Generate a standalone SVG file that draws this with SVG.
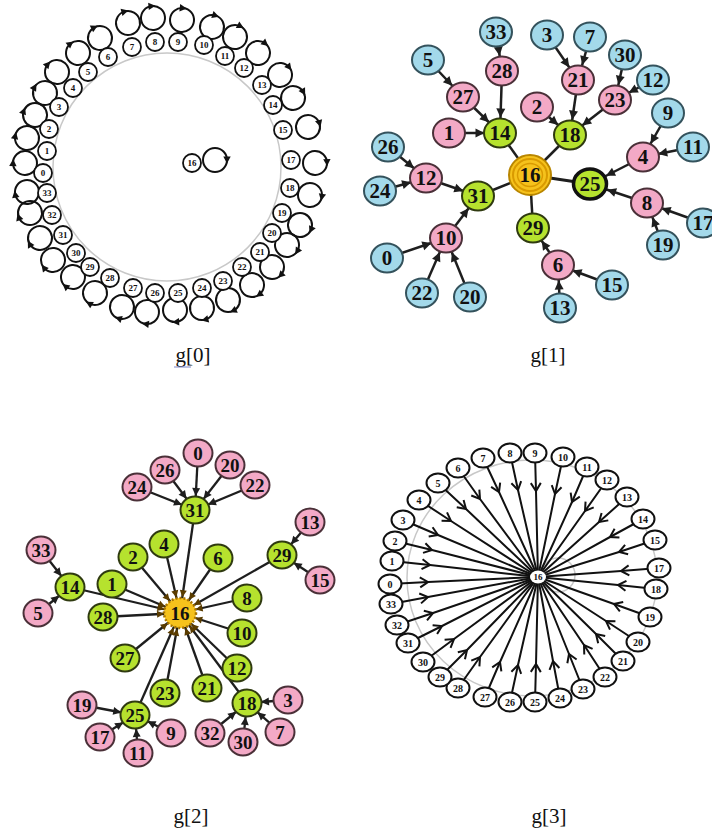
<svg xmlns="http://www.w3.org/2000/svg" xmlns:xlink="http://www.w3.org/1999/xlink" width="712" height="838" viewBox="0 0 712 838">
<style>
.bg{fill:#fff}
.ring{fill:none;stroke:#c8c8c8;stroke-width:1.5}
.lp circle{fill:none;stroke:#111;stroke-width:2}
.n0 circle{fill:#fff;stroke:#111;stroke-width:1.8}
.n0 text{font-family:"Liberation Serif",serif;font-weight:bold;font-size:9px;text-anchor:middle;dominant-baseline:central;fill:#111}
.e1{stroke:#1e1e1e;stroke-width:2.5;fill:none}
.e2{stroke:#1e1e1e;stroke-width:2.3;fill:none}
.big text{font-family:"Liberation Serif",serif;font-weight:bold;text-anchor:middle;dominant-baseline:central;fill:#111}
.g1 text{font-size:21px}
.g2 text{font-size:19px}
.b ellipse{fill:#a3d9ea;stroke:#34525c;stroke-width:2}
.p ellipse{fill:#f3a9c6;stroke:#4a3038;stroke-width:2}
.g ellipse{fill:#b6e22e;stroke:#2f3a10;stroke-width:2}
.e3{stroke:#111;stroke-width:2;fill:none}
.n3 ellipse{fill:#fff;stroke:#111;stroke-width:2}
.n3 text{font-family:"Liberation Serif",serif;font-weight:bold;font-size:10px;text-anchor:middle;dominant-baseline:central;fill:#111}
.cap{font-family:"Liberation Serif",serif;font-size:21px;text-anchor:middle;fill:#111}
</style>
<defs>
<g id="lp" class="lp"><circle r="12"/><path d="M8.3,-3.5 L12,3.5 L15.7,-3.5 Z" fill="#111"/></g>
<marker id="a1" markerUnits="userSpaceOnUse" orient="auto" refX="15.5" refY="0" overflow="visible" markerWidth="1" markerHeight="1"><path d="M-9,-4.5 L0,0 L-9,4.5 Z" fill="#1e1e1e"/></marker>
<marker id="a25" markerUnits="userSpaceOnUse" orient="auto" refX="18" refY="0" overflow="visible" markerWidth="1" markerHeight="1"><path d="M-9,-4.5 L0,0 L-9,4.5 Z" fill="#1e1e1e"/></marker>
<marker id="a2" markerUnits="userSpaceOnUse" orient="auto" refX="14" refY="0" overflow="visible" markerWidth="1" markerHeight="1"><path d="M-8,-4 L0,0 L-8,4 Z" fill="#1e1e1e"/></marker>
<marker id="a16" markerUnits="userSpaceOnUse" orient="auto" refX="16" refY="0" overflow="visible" markerWidth="1" markerHeight="1"><path d="M-7,-3.5 L0,0 L-7,3.5 Z" fill="#5a3c00"/></marker>
<marker id="v" markerUnits="userSpaceOnUse" orient="auto" refX="0" refY="0" overflow="visible" markerWidth="1" markerHeight="1"><path d="M-8,-5 L0,0 L-8,5" fill="none" stroke="#111" stroke-width="2"/></marker>
</defs>
<rect class="bg" width="712" height="838"/>

<!-- g[0] -->
<g id="g0">
<circle class="ring" cx="167" cy="167" r="114"/>
<g id="g0-loops">
<use xlink:href="#lp" transform="translate(25,163) rotate(182)"/>
<use xlink:href="#lp" transform="translate(27,138) rotate(192)"/>
<use xlink:href="#lp" transform="translate(35,115) rotate(201)"/>
<use xlink:href="#lp" transform="translate(45,93) rotate(211)"/>
<use xlink:href="#lp" transform="translate(57,72) rotate(221)"/>
<use xlink:href="#lp" transform="translate(78,53) rotate(232)"/>
<use xlink:href="#lp" transform="translate(100,38) rotate(243)"/>
<use xlink:href="#lp" transform="translate(128,23) rotate(255)"/>
<use xlink:href="#lp" transform="translate(153,18) rotate(265)"/>
<use xlink:href="#lp" transform="translate(182,20) rotate(276)"/>
<use xlink:href="#lp" transform="translate(212,27) rotate(288)"/>
<use xlink:href="#lp" transform="translate(235,37) rotate(298)"/>
<use xlink:href="#lp" transform="translate(258,53) rotate(309)"/>
<use xlink:href="#lp" transform="translate(280,75) rotate(321)"/>
<use xlink:href="#lp" transform="translate(293,98) rotate(331)"/>
<use xlink:href="#lp" transform="translate(308,127) rotate(344)"/>
<use xlink:href="#lp" transform="translate(315,163) rotate(358)"/>
<use xlink:href="#lp" transform="translate(310,195) rotate(11)"/>
<use xlink:href="#lp" transform="translate(300,225) rotate(24)"/>
<use xlink:href="#lp" transform="translate(287,245) rotate(33)"/>
<use xlink:href="#lp" transform="translate(272,267) rotate(44)"/>
<use xlink:href="#lp" transform="translate(252,285) rotate(54)"/>
<use xlink:href="#lp" transform="translate(228,300) rotate(65)"/>
<use xlink:href="#lp" transform="translate(202,308) rotate(76)"/>
<use xlink:href="#lp" transform="translate(175,310) rotate(87)"/>
<use xlink:href="#lp" transform="translate(147,312) rotate(98)"/>
<use xlink:href="#lp" transform="translate(122,307) rotate(108)"/>
<use xlink:href="#lp" transform="translate(95,293) rotate(120)"/>
<use xlink:href="#lp" transform="translate(73,277) rotate(130)"/>
<use xlink:href="#lp" transform="translate(53,260) rotate(141)"/>
<use xlink:href="#lp" transform="translate(40,238) rotate(151)"/>
<use xlink:href="#lp" transform="translate(30,213) rotate(161)"/>
<use xlink:href="#lp" transform="translate(27,192) rotate(170)"/>
<use xlink:href="#lp" transform="translate(215,160) rotate(0)"/>
</g>
<g id="g0-n0" class="n0"><circle cx="43" cy="173" r="9"/><text x="43" y="173">0</text></g>
<g id="g0-n1" class="n0"><circle cx="47" cy="151" r="9"/><text x="47" y="151">1</text></g>
<g id="g0-n2" class="n0"><circle cx="49" cy="129" r="9"/><text x="49" y="129">2</text></g>
<g id="g0-n3" class="n0"><circle cx="59" cy="107" r="9"/><text x="59" y="107">3</text></g>
<g id="g0-n4" class="n0"><circle cx="73" cy="88" r="9"/><text x="73" y="88">4</text></g>
<g id="g0-n5" class="n0"><circle cx="88" cy="72" r="9"/><text x="88" y="72">5</text></g>
<g id="g0-n6" class="n0"><circle cx="108" cy="57" r="9"/><text x="108" y="57">6</text></g>
<g id="g0-n7" class="n0"><circle cx="132" cy="47" r="9"/><text x="132" y="47">7</text></g>
<g id="g0-n8" class="n0"><circle cx="155" cy="42" r="9"/><text x="155" y="42">8</text></g>
<g id="g0-n9" class="n0"><circle cx="178" cy="42" r="9"/><text x="178" y="42">9</text></g>
<g id="g0-n10" class="n0"><circle cx="204" cy="45" r="9"/><text x="204" y="45">10</text></g>
<g id="g0-n11" class="n0"><circle cx="225" cy="56" r="9"/><text x="225" y="56">11</text></g>
<g id="g0-n12" class="n0"><circle cx="244" cy="68" r="9"/><text x="244" y="68">12</text></g>
<g id="g0-n13" class="n0"><circle cx="262" cy="85" r="9"/><text x="262" y="85">13</text></g>
<g id="g0-n14" class="n0"><circle cx="273" cy="105" r="9"/><text x="273" y="105">14</text></g>
<g id="g0-n15" class="n0"><circle cx="283" cy="130" r="9"/><text x="283" y="130">15</text></g>
<g id="g0-n16" class="n0"><circle cx="192" cy="163" r="9"/><text x="192" y="163">16</text></g>
<g id="g0-n17" class="n0"><circle cx="291" cy="160" r="9"/><text x="291" y="160">17</text></g>
<g id="g0-n18" class="n0"><circle cx="290" cy="188" r="9"/><text x="290" y="188">18</text></g>
<g id="g0-n19" class="n0"><circle cx="282" cy="213" r="9"/><text x="282" y="213">19</text></g>
<g id="g0-n20" class="n0"><circle cx="272" cy="233" r="9"/><text x="272" y="233">20</text></g>
<g id="g0-n21" class="n0"><circle cx="260" cy="252" r="9"/><text x="260" y="252">21</text></g>
<g id="g0-n22" class="n0"><circle cx="242" cy="267" r="9"/><text x="242" y="267">22</text></g>
<g id="g0-n23" class="n0"><circle cx="223" cy="281" r="9"/><text x="223" y="281">23</text></g>
<g id="g0-n24" class="n0"><circle cx="202" cy="288" r="9"/><text x="202" y="288">24</text></g>
<g id="g0-n25" class="n0"><circle cx="178" cy="293" r="9"/><text x="178" y="293">25</text></g>
<g id="g0-n26" class="n0"><circle cx="155" cy="293" r="9"/><text x="155" y="293">26</text></g>
<g id="g0-n27" class="n0"><circle cx="133" cy="288" r="9"/><text x="133" y="288">27</text></g>
<g id="g0-n28" class="n0"><circle cx="110" cy="278" r="9"/><text x="110" y="278">28</text></g>
<g id="g0-n29" class="n0"><circle cx="90" cy="267" r="9"/><text x="90" y="267">29</text></g>
<g id="g0-n30" class="n0"><circle cx="76" cy="253" r="9"/><text x="76" y="253">30</text></g>
<g id="g0-n31" class="n0"><circle cx="63" cy="235" r="9"/><text x="63" y="235">31</text></g>
<g id="g0-n32" class="n0"><circle cx="52" cy="215" r="9"/><text x="52" y="215">32</text></g>
<g id="g0-n33" class="n0"><circle cx="47" cy="193" r="9"/><text x="47" y="193">33</text></g>
</g>

<!-- g[1] -->
<g id="g1" class="big g1">
<g id="g1-edges">
<line class="e1" x1="428" y1="60" x2="463" y2="97" marker-end="url(#a1)"/>
<line class="e1" x1="463" y1="97" x2="500" y2="133" marker-end="url(#a1)"/>
<line class="e1" x1="496" y1="32" x2="502" y2="71" marker-end="url(#a1)"/>
<line class="e1" x1="502" y1="71" x2="500" y2="133" marker-end="url(#a1)"/>
<line class="e1" x1="449" y1="133" x2="500" y2="133" marker-end="url(#a1)"/>
<line class="e1" x1="500" y1="133" x2="530" y2="175"/>
<line class="e1" x1="547" y1="35" x2="578" y2="80" marker-end="url(#a1)"/>
<line class="e1" x1="590" y1="37" x2="578" y2="80" marker-end="url(#a1)"/>
<line class="e1" x1="578" y1="80" x2="570" y2="135" marker-end="url(#a1)"/>
<line class="e1" x1="625" y1="55" x2="615" y2="100" marker-end="url(#a1)"/>
<line class="e1" x1="653" y1="80" x2="615" y2="100" marker-end="url(#a1)"/>
<line class="e1" x1="615" y1="100" x2="570" y2="135" marker-end="url(#a1)"/>
<line class="e1" x1="537" y1="107" x2="570" y2="135" marker-end="url(#a1)"/>
<line class="e1" x1="570" y1="135" x2="530" y2="175"/>
<line class="e1" x1="668" y1="113" x2="643" y2="157" marker-end="url(#a1)"/>
<line class="e1" x1="693" y1="147" x2="643" y2="157" marker-end="url(#a1)"/>
<line class="e1" x1="643" y1="157" x2="590" y2="184" marker-end="url(#a25)"/>
<line class="e1" x1="647" y1="203" x2="590" y2="184" marker-end="url(#a25)"/>
<line class="e1" x1="703" y1="223" x2="647" y2="203" marker-end="url(#a1)"/>
<line class="e1" x1="663" y1="245" x2="647" y2="203" marker-end="url(#a1)"/>
<line class="e1" x1="590" y1="184" x2="530" y2="175" style="stroke-width:3"/>
<line class="e1" x1="388" y1="147" x2="426" y2="178" marker-end="url(#a1)"/>
<line class="e1" x1="380" y1="191" x2="426" y2="178" marker-end="url(#a1)"/>
<line class="e1" x1="426" y1="178" x2="478" y2="196" marker-end="url(#a1)"/>
<line class="e1" x1="478" y1="196" x2="530" y2="175"/>
<line class="e1" x1="387" y1="258" x2="446" y2="238" marker-end="url(#a1)"/>
<line class="e1" x1="422" y1="293" x2="446" y2="238" marker-end="url(#a1)"/>
<line class="e1" x1="470" y1="297" x2="446" y2="238" marker-end="url(#a1)"/>
<line class="e1" x1="446" y1="238" x2="478" y2="196" marker-end="url(#a1)"/>
<line class="e1" x1="533" y1="228" x2="530" y2="175"/>
<line class="e1" x1="558" y1="265" x2="533" y2="228" marker-end="url(#a1)"/>
<line class="e1" x1="612" y1="285" x2="558" y2="265" marker-end="url(#a1)"/>
<line class="e1" x1="560" y1="308" x2="558" y2="265" marker-end="url(#a1)"/>
</g>
<g id="g1-n33" class="b"><ellipse cx="496" cy="32" rx="16" ry="14.5"/><text x="496" y="32">33</text></g>
<g id="g1-n5" class="b"><ellipse cx="428" cy="60" rx="16" ry="14.5"/><text x="428" y="60">5</text></g>
<g id="g1-n3" class="b"><ellipse cx="547" cy="35" rx="16" ry="14.5"/><text x="547" y="35">3</text></g>
<g id="g1-n7" class="b"><ellipse cx="590" cy="37" rx="16" ry="14.5"/><text x="590" y="37">7</text></g>
<g id="g1-n30" class="b"><ellipse cx="625" cy="55" rx="16" ry="14.5"/><text x="625" y="55">30</text></g>
<g id="g1-n12b" class="b"><ellipse cx="653" cy="80" rx="16" ry="14.5"/><text x="653" y="80">12</text></g>
<g id="g1-n9" class="b"><ellipse cx="668" cy="113" rx="16" ry="14.5"/><text x="668" y="113">9</text></g>
<g id="g1-n11" class="b"><ellipse cx="693" cy="147" rx="16" ry="14.5"/><text x="693" y="147">11</text></g>
<g id="g1-n26" class="b"><ellipse cx="388" cy="147" rx="16" ry="14.5"/><text x="388" y="147">26</text></g>
<g id="g1-n24" class="b"><ellipse cx="380" cy="191" rx="16" ry="14.5"/><text x="380" y="191">24</text></g>
<g id="g1-n17" class="b"><ellipse cx="703" cy="223" rx="16" ry="14.5"/><text x="703" y="223">17</text></g>
<g id="g1-n19" class="b"><ellipse cx="663" cy="245" rx="16" ry="14.5"/><text x="663" y="245">19</text></g>
<g id="g1-n0" class="b"><ellipse cx="387" cy="258" rx="16" ry="14.5"/><text x="387" y="258">0</text></g>
<g id="g1-n22" class="b"><ellipse cx="422" cy="293" rx="16" ry="14.5"/><text x="422" y="293">22</text></g>
<g id="g1-n20" class="b"><ellipse cx="470" cy="297" rx="16" ry="14.5"/><text x="470" y="297">20</text></g>
<g id="g1-n15" class="b"><ellipse cx="612" cy="285" rx="16" ry="14.5"/><text x="612" y="285">15</text></g>
<g id="g1-n13" class="b"><ellipse cx="560" cy="308" rx="16" ry="14.5"/><text x="560" y="308">13</text></g>
<g id="g1-n28" class="p"><ellipse cx="502" cy="71" rx="16" ry="14.5"/><text x="502" y="71">28</text></g>
<g id="g1-n27" class="p"><ellipse cx="463" cy="97" rx="16" ry="14.5"/><text x="463" y="97">27</text></g>
<g id="g1-n1" class="p"><ellipse cx="449" cy="133" rx="16" ry="14.5"/><text x="449" y="133">1</text></g>
<g id="g1-n21" class="p"><ellipse cx="578" cy="80" rx="16" ry="14.5"/><text x="578" y="80">21</text></g>
<g id="g1-n23" class="p"><ellipse cx="615" cy="100" rx="16" ry="14.5"/><text x="615" y="100">23</text></g>
<g id="g1-n2" class="p"><ellipse cx="537" cy="107" rx="16" ry="14.5"/><text x="537" y="107">2</text></g>
<g id="g1-n4" class="p"><ellipse cx="643" cy="157" rx="16" ry="14.5"/><text x="643" y="157">4</text></g>
<g id="g1-n12" class="p"><ellipse cx="426" cy="178" rx="16" ry="14.5"/><text x="426" y="178">12</text></g>
<g id="g1-n8" class="p"><ellipse cx="647" cy="203" rx="16" ry="14.5"/><text x="647" y="203">8</text></g>
<g id="g1-n10" class="p"><ellipse cx="446" cy="238" rx="16" ry="14.5"/><text x="446" y="238">10</text></g>
<g id="g1-n6" class="p"><ellipse cx="558" cy="265" rx="16" ry="14.5"/><text x="558" y="265">6</text></g>
<g id="g1-n14" class="g"><ellipse cx="500" cy="133" rx="16" ry="14.5"/><text x="500" y="133">14</text></g>
<g id="g1-n18" class="g"><ellipse cx="570" cy="135" rx="16" ry="14.5"/><text x="570" y="135">18</text></g>
<g id="g1-n31" class="g"><ellipse cx="478" cy="196" rx="16" ry="14.5"/><text x="478" y="196">31</text></g>
<g id="g1-n29" class="g"><ellipse cx="533" cy="228" rx="16" ry="14.5"/><text x="533" y="228">29</text></g>
<g id="g1-n25" class="g"><ellipse cx="590" cy="184" rx="16.5" ry="15" style="stroke:#111;stroke-width:3.5"/><text x="590" y="184">25</text></g>
<g id="g1-n16"><ellipse cx="530" cy="175" rx="21" ry="20" fill="#f6c21c" stroke="#b98600" stroke-width="2"/><ellipse cx="530" cy="175" rx="17" ry="16" fill="none" stroke="#d99a00" stroke-width="2"/><ellipse cx="530" cy="175" rx="12.5" ry="11.5" fill="none" stroke="#d99a00" stroke-width="1.5"/><text x="530" y="175">16</text></g>
</g>

<!-- g[2] -->
<g id="g2" class="big g2">
<g id="g2-edges">
<line class="e2" x1="137" y1="487" x2="195" y2="510" marker-end="url(#a2)"/>
<line class="e2" x1="165" y1="470" x2="195" y2="510" marker-end="url(#a2)"/>
<line class="e2" x1="198" y1="453" x2="195" y2="510" marker-end="url(#a2)"/>
<line class="e2" x1="230" y1="465" x2="195" y2="510" marker-end="url(#a2)"/>
<line class="e2" x1="255" y1="485" x2="195" y2="510" marker-end="url(#a2)"/>
<line class="e2" x1="41" y1="550" x2="70" y2="587" marker-end="url(#a2)"/>
<line class="e2" x1="38" y1="613" x2="70" y2="587" marker-end="url(#a2)"/>
<line class="e2" x1="310" y1="522" x2="282" y2="555" marker-end="url(#a2)"/>
<line class="e2" x1="320" y1="580" x2="282" y2="555" marker-end="url(#a2)"/>
<line class="e2" x1="82" y1="705" x2="135" y2="715" marker-end="url(#a2)"/>
<line class="e2" x1="100" y1="737" x2="135" y2="715" marker-end="url(#a2)"/>
<line class="e2" x1="138" y1="753" x2="135" y2="715" marker-end="url(#a2)"/>
<line class="e2" x1="171" y1="733" x2="135" y2="715" marker-end="url(#a2)"/>
<line class="e2" x1="288" y1="700" x2="247" y2="703" marker-end="url(#a2)"/>
<line class="e2" x1="280" y1="732" x2="247" y2="703" marker-end="url(#a2)"/>
<line class="e2" x1="243" y1="742" x2="247" y2="703" marker-end="url(#a2)"/>
<line class="e2" x1="210" y1="733" x2="247" y2="703" marker-end="url(#a2)"/>
<line class="e2" x1="195" y1="510" x2="180" y2="613" marker-end="url(#a16)"/>
<line class="e2" x1="70" y1="587" x2="180" y2="613" marker-end="url(#a16)"/>
<line class="e2" x1="164" y1="544" x2="180" y2="613" marker-end="url(#a16)"/>
<line class="e2" x1="133" y1="557" x2="180" y2="613" marker-end="url(#a16)"/>
<line class="e2" x1="112" y1="584" x2="180" y2="613" marker-end="url(#a16)"/>
<line class="e2" x1="103" y1="617" x2="180" y2="613" marker-end="url(#a16)"/>
<line class="e2" x1="125" y1="658" x2="180" y2="613" marker-end="url(#a16)"/>
<line class="e2" x1="165" y1="693" x2="180" y2="613" marker-end="url(#a16)"/>
<line class="e2" x1="135" y1="715" x2="180" y2="613" marker-end="url(#a16)"/>
<line class="e2" x1="218" y1="558" x2="180" y2="613" marker-end="url(#a16)"/>
<line class="e2" x1="282" y1="555" x2="180" y2="613" marker-end="url(#a16)"/>
<line class="e2" x1="247" y1="598" x2="180" y2="613" marker-end="url(#a16)"/>
<line class="e2" x1="242" y1="633" x2="180" y2="613" marker-end="url(#a16)"/>
<line class="e2" x1="237" y1="668" x2="180" y2="613" marker-end="url(#a16)"/>
<line class="e2" x1="207" y1="688" x2="180" y2="613" marker-end="url(#a16)"/>
<line class="e2" x1="247" y1="703" x2="180" y2="613" marker-end="url(#a16)"/>
</g>
<g id="g2-n26" class="p"><ellipse cx="165" cy="470" rx="14.5" ry="13.5"/><text x="165" y="470">26</text></g>
<g id="g2-n24" class="p"><ellipse cx="137" cy="487" rx="14.5" ry="13.5"/><text x="137" y="487">24</text></g>
<g id="g2-n0" class="p"><ellipse cx="198" cy="453" rx="14.5" ry="13.5"/><text x="198" y="453">0</text></g>
<g id="g2-n20" class="p"><ellipse cx="230" cy="465" rx="14.5" ry="13.5"/><text x="230" y="465">20</text></g>
<g id="g2-n22" class="p"><ellipse cx="255" cy="485" rx="14.5" ry="13.5"/><text x="255" y="485">22</text></g>
<g id="g2-n33" class="p"><ellipse cx="41" cy="550" rx="14.5" ry="13.5"/><text x="41" y="550">33</text></g>
<g id="g2-n5" class="p"><ellipse cx="38" cy="613" rx="14.5" ry="13.5"/><text x="38" y="613">5</text></g>
<g id="g2-n13" class="p"><ellipse cx="310" cy="522" rx="14.5" ry="13.5"/><text x="310" y="522">13</text></g>
<g id="g2-n15" class="p"><ellipse cx="320" cy="580" rx="14.5" ry="13.5"/><text x="320" y="580">15</text></g>
<g id="g2-n19" class="p"><ellipse cx="82" cy="705" rx="14.5" ry="13.5"/><text x="82" y="705">19</text></g>
<g id="g2-n17" class="p"><ellipse cx="100" cy="737" rx="14.5" ry="13.5"/><text x="100" y="737">17</text></g>
<g id="g2-n11" class="p"><ellipse cx="138" cy="753" rx="14.5" ry="13.5"/><text x="138" y="753">11</text></g>
<g id="g2-n9" class="p"><ellipse cx="171" cy="733" rx="14.5" ry="13.5"/><text x="171" y="733">9</text></g>
<g id="g2-n3" class="p"><ellipse cx="288" cy="700" rx="14.5" ry="13.5"/><text x="288" y="700">3</text></g>
<g id="g2-n7" class="p"><ellipse cx="280" cy="732" rx="14.5" ry="13.5"/><text x="280" y="732">7</text></g>
<g id="g2-n30" class="p"><ellipse cx="243" cy="742" rx="14.5" ry="13.5"/><text x="243" y="742">30</text></g>
<g id="g2-n32" class="p"><ellipse cx="210" cy="733" rx="14.5" ry="13.5"/><text x="210" y="733">32</text></g>
<g id="g2-n31" class="g"><ellipse cx="195" cy="510" rx="14.5" ry="13.5"/><text x="195" y="510">31</text></g>
<g id="g2-n14" class="g"><ellipse cx="70" cy="587" rx="14.5" ry="13.5"/><text x="70" y="587">14</text></g>
<g id="g2-n4" class="g"><ellipse cx="164" cy="544" rx="14.5" ry="13.5"/><text x="164" y="544">4</text></g>
<g id="g2-n2" class="g"><ellipse cx="133" cy="557" rx="14.5" ry="13.5"/><text x="133" y="557">2</text></g>
<g id="g2-n1" class="g"><ellipse cx="112" cy="584" rx="14.5" ry="13.5"/><text x="112" y="584">1</text></g>
<g id="g2-n28" class="g"><ellipse cx="103" cy="617" rx="14.5" ry="13.5"/><text x="103" y="617">28</text></g>
<g id="g2-n27" class="g"><ellipse cx="125" cy="658" rx="14.5" ry="13.5"/><text x="125" y="658">27</text></g>
<g id="g2-n23" class="g"><ellipse cx="165" cy="693" rx="14.5" ry="13.5"/><text x="165" y="693">23</text></g>
<g id="g2-n25" class="g"><ellipse cx="135" cy="715" rx="14.5" ry="13.5"/><text x="135" y="715">25</text></g>
<g id="g2-n6" class="g"><ellipse cx="218" cy="558" rx="14.5" ry="13.5"/><text x="218" y="558">6</text></g>
<g id="g2-n29" class="g"><ellipse cx="282" cy="555" rx="14.5" ry="13.5"/><text x="282" y="555">29</text></g>
<g id="g2-n8" class="g"><ellipse cx="247" cy="598" rx="14.5" ry="13.5"/><text x="247" y="598">8</text></g>
<g id="g2-n10" class="g"><ellipse cx="242" cy="633" rx="14.5" ry="13.5"/><text x="242" y="633">10</text></g>
<g id="g2-n12" class="g"><ellipse cx="237" cy="668" rx="14.5" ry="13.5"/><text x="237" y="668">12</text></g>
<g id="g2-n21" class="g"><ellipse cx="207" cy="688" rx="14.5" ry="13.5"/><text x="207" y="688">21</text></g>
<g id="g2-n18" class="g"><ellipse cx="247" cy="703" rx="14.5" ry="13.5"/><text x="247" y="703">18</text></g>
<g id="g2-n16"><ellipse cx="180" cy="613" rx="16" ry="15" fill="#f6c21c" stroke="#a87400" stroke-width="2.5" stroke-dasharray="2 2"/><text x="180" y="613">16</text></g>
</g>

<!-- g[3] -->
<g id="g3">
<ellipse class="ring" cx="532" cy="578" rx="125" ry="118"/>
<circle class="ring" cx="558" cy="575" r="17"/>
<g id="g3-edges">
<path class="e3" d="M390,584 L428,582 L538,577" marker-mid="url(#v)"/>
<path class="e3" d="M392,561 L430,565 L538,577" marker-mid="url(#v)"/>
<path class="e3" d="M395,541 L432,550 L538,577" marker-mid="url(#v)"/>
<path class="e3" d="M403,520 L438,535 L538,577" marker-mid="url(#v)"/>
<path class="e3" d="M419,500 L451,521 L538,577" marker-mid="url(#v)"/>
<path class="e3" d="M438,483 L466,509 L538,577" marker-mid="url(#v)"/>
<path class="e3" d="M458,468 L480,499 L538,577" marker-mid="url(#v)"/>
<path class="e3" d="M483,458 L499,492 L538,577" marker-mid="url(#v)"/>
<path class="e3" d="M510,453 L518,490 L538,577" marker-mid="url(#v)"/>
<path class="e3" d="M535,453 L536,491 L538,577" marker-mid="url(#v)"/>
<path class="e3" d="M563,457 L555,494 L538,577" marker-mid="url(#v)"/>
<path class="e3" d="M587,467 L572,502 L538,577" marker-mid="url(#v)"/>
<path class="e3" d="M607,480 L585,511 L538,577" marker-mid="url(#v)"/>
<path class="e3" d="M627,497 L599,522 L538,577" marker-mid="url(#v)"/>
<path class="e3" d="M643,519 L610,537 L538,577" marker-mid="url(#v)"/>
<path class="e3" d="M655,540 L619,552 L538,577" marker-mid="url(#v)"/>
<path class="e3" d="M659,568 L621,571 L538,577" marker-mid="url(#v)"/>
<path class="e3" d="M656,589 L618,585 L538,577" marker-mid="url(#v)"/>
<path class="e3" d="M650,617 L614,604 L538,577" marker-mid="url(#v)"/>
<path class="e3" d="M638,642 L606,621 L538,577" marker-mid="url(#v)"/>
<path class="e3" d="M623,661 L596,634 L538,577" marker-mid="url(#v)"/>
<path class="e3" d="M605,677 L584,645 L538,577" marker-mid="url(#v)"/>
<path class="e3" d="M583,689 L569,654 L538,577" marker-mid="url(#v)"/>
<path class="e3" d="M560,698 L553,661 L538,577" marker-mid="url(#v)"/>
<path class="e3" d="M535,702 L536,664 L538,577" marker-mid="url(#v)"/>
<path class="e3" d="M510,702 L518,665 L538,577" marker-mid="url(#v)"/>
<path class="e3" d="M485,697 L500,662 L538,577" marker-mid="url(#v)"/>
<path class="e3" d="M458,688 L480,657 L538,577" marker-mid="url(#v)"/>
<path class="e3" d="M440,677 L467,650 L538,577" marker-mid="url(#v)"/>
<path class="e3" d="M423,662 L454,639 L538,577" marker-mid="url(#v)"/>
<path class="e3" d="M408,643 L442,626 L538,577" marker-mid="url(#v)"/>
<path class="e3" d="M397,625 L433,613 L538,577" marker-mid="url(#v)"/>
<path class="e3" d="M391,604 L428,597 L538,577" marker-mid="url(#v)"/>
</g>
<g id="g3-n0" class="n3"><ellipse cx="390" cy="584" rx="11.5" ry="9.5"/><text x="390" y="584">0</text></g>
<g id="g3-n1" class="n3"><ellipse cx="392" cy="561" rx="11.5" ry="9.5"/><text x="392" y="561">1</text></g>
<g id="g3-n2" class="n3"><ellipse cx="395" cy="541" rx="11.5" ry="9.5"/><text x="395" y="541">2</text></g>
<g id="g3-n3" class="n3"><ellipse cx="403" cy="520" rx="11.5" ry="9.5"/><text x="403" y="520">3</text></g>
<g id="g3-n4" class="n3"><ellipse cx="419" cy="500" rx="11.5" ry="9.5"/><text x="419" y="500">4</text></g>
<g id="g3-n5" class="n3"><ellipse cx="438" cy="483" rx="11.5" ry="9.5"/><text x="438" y="483">5</text></g>
<g id="g3-n6" class="n3"><ellipse cx="458" cy="468" rx="11.5" ry="9.5"/><text x="458" y="468">6</text></g>
<g id="g3-n7" class="n3"><ellipse cx="483" cy="458" rx="11.5" ry="9.5"/><text x="483" y="458">7</text></g>
<g id="g3-n8" class="n3"><ellipse cx="510" cy="453" rx="11.5" ry="9.5"/><text x="510" y="453">8</text></g>
<g id="g3-n9" class="n3"><ellipse cx="535" cy="453" rx="11.5" ry="9.5"/><text x="535" y="453">9</text></g>
<g id="g3-n10" class="n3"><ellipse cx="563" cy="457" rx="11.5" ry="9.5"/><text x="563" y="457">10</text></g>
<g id="g3-n11" class="n3"><ellipse cx="587" cy="467" rx="11.5" ry="9.5"/><text x="587" y="467">11</text></g>
<g id="g3-n12" class="n3"><ellipse cx="607" cy="480" rx="11.5" ry="9.5"/><text x="607" y="480">12</text></g>
<g id="g3-n13" class="n3"><ellipse cx="627" cy="497" rx="11.5" ry="9.5"/><text x="627" y="497">13</text></g>
<g id="g3-n14" class="n3"><ellipse cx="643" cy="519" rx="11.5" ry="9.5"/><text x="643" y="519">14</text></g>
<g id="g3-n15" class="n3"><ellipse cx="655" cy="540" rx="11.5" ry="9.5"/><text x="655" y="540">15</text></g>
<g id="g3-n17" class="n3"><ellipse cx="659" cy="568" rx="11.5" ry="9.5"/><text x="659" y="568">17</text></g>
<g id="g3-n18" class="n3"><ellipse cx="656" cy="589" rx="11.5" ry="9.5"/><text x="656" y="589">18</text></g>
<g id="g3-n19" class="n3"><ellipse cx="650" cy="617" rx="11.5" ry="9.5"/><text x="650" y="617">19</text></g>
<g id="g3-n20" class="n3"><ellipse cx="638" cy="642" rx="11.5" ry="9.5"/><text x="638" y="642">20</text></g>
<g id="g3-n21" class="n3"><ellipse cx="623" cy="661" rx="11.5" ry="9.5"/><text x="623" y="661">21</text></g>
<g id="g3-n22" class="n3"><ellipse cx="605" cy="677" rx="11.5" ry="9.5"/><text x="605" y="677">22</text></g>
<g id="g3-n23" class="n3"><ellipse cx="583" cy="689" rx="11.5" ry="9.5"/><text x="583" y="689">23</text></g>
<g id="g3-n24" class="n3"><ellipse cx="560" cy="698" rx="11.5" ry="9.5"/><text x="560" y="698">24</text></g>
<g id="g3-n25" class="n3"><ellipse cx="535" cy="702" rx="11.5" ry="9.5"/><text x="535" y="702">25</text></g>
<g id="g3-n26" class="n3"><ellipse cx="510" cy="702" rx="11.5" ry="9.5"/><text x="510" y="702">26</text></g>
<g id="g3-n27" class="n3"><ellipse cx="485" cy="697" rx="11.5" ry="9.5"/><text x="485" y="697">27</text></g>
<g id="g3-n28" class="n3"><ellipse cx="458" cy="688" rx="11.5" ry="9.5"/><text x="458" y="688">28</text></g>
<g id="g3-n29" class="n3"><ellipse cx="440" cy="677" rx="11.5" ry="9.5"/><text x="440" y="677">29</text></g>
<g id="g3-n30" class="n3"><ellipse cx="423" cy="662" rx="11.5" ry="9.5"/><text x="423" y="662">30</text></g>
<g id="g3-n31" class="n3"><ellipse cx="408" cy="643" rx="11.5" ry="9.5"/><text x="408" y="643">31</text></g>
<g id="g3-n32" class="n3"><ellipse cx="397" cy="625" rx="11.5" ry="9.5"/><text x="397" y="625">32</text></g>
<g id="g3-n33" class="n3"><ellipse cx="391" cy="604" rx="11.5" ry="9.5"/><text x="391" y="604">33</text></g>
<g id="g3-n16" class="n3"><ellipse cx="538" cy="577" rx="8" ry="6.5" style="stroke:none"/><text x="538" y="577" style="font-size:9px">16</text></g>
</g>

<g id="captions">
<text class="cap" x="193" y="362">g[0]</text>
<line x1="174" y1="367" x2="191" y2="367" stroke="#7c86c8" stroke-width="1"/>
<text class="cap" x="548" y="362">g[1]</text>
<text class="cap" x="191" y="823">g[2]</text>
<text class="cap" x="549" y="823">g[3]</text>
</g>
</svg>
